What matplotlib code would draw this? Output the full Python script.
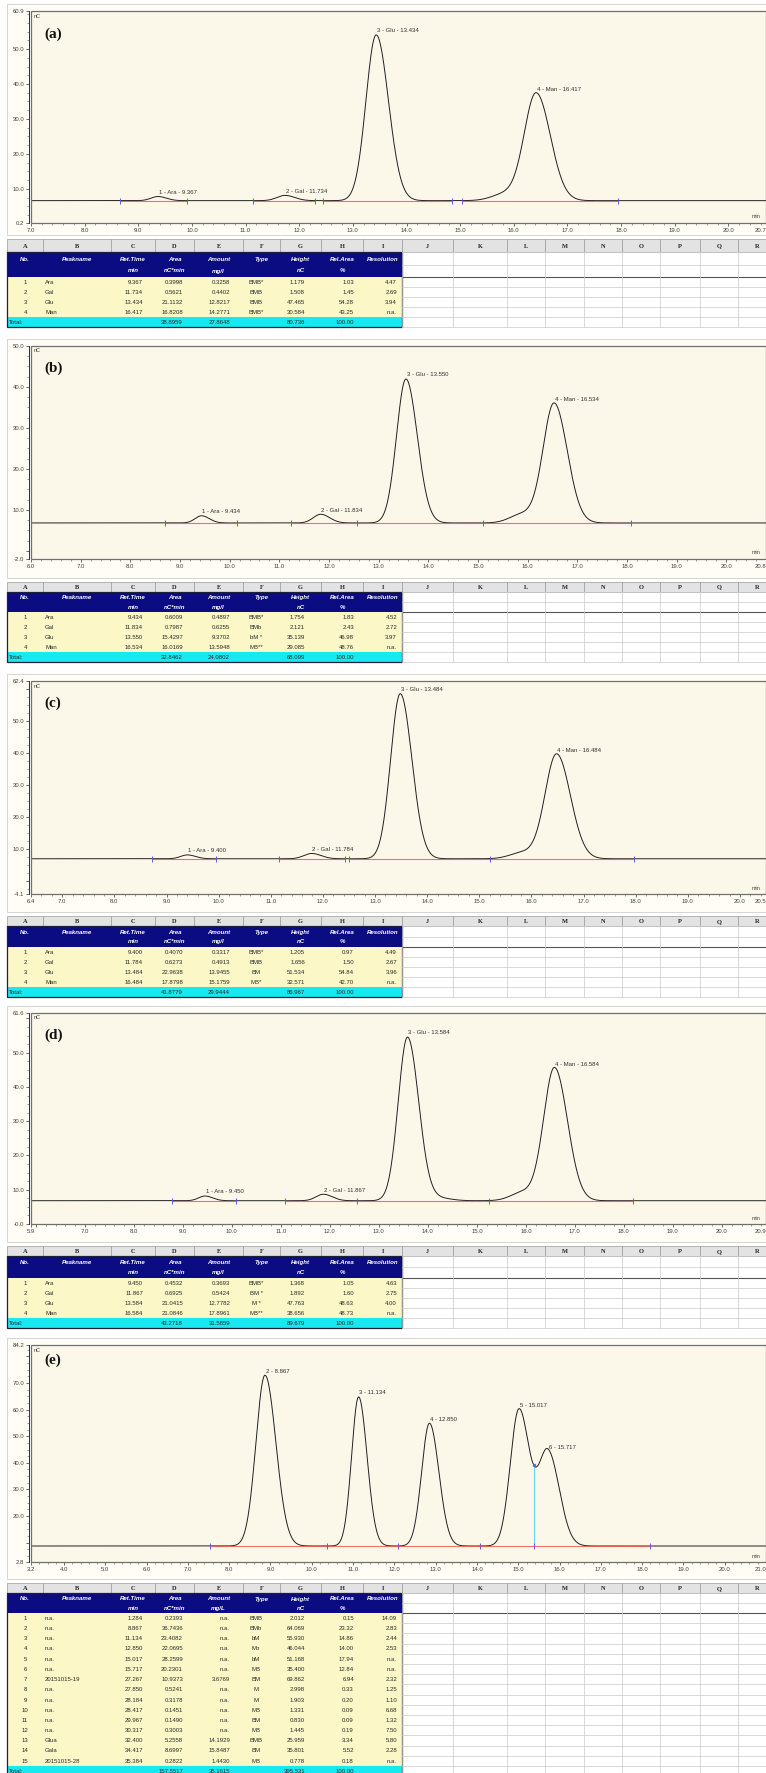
import numpy as np
import matplotlib.pyplot as plt
from matplotlib.patches import Rectangle
from matplotlib.ticker import MultipleLocator

plt.rcParams["font.family"] = ["Liberation Sans", "DejaVu Sans"]

W, H = 766, 1773

# table headings
col_letters = list("ABCDEFGHIJKLMNOPQR")
head_top = ["No.", "Peakname", "Ret.Time", "Area", "Amount", "Type", "Height", "Rel.Area", "Resolution"]
head_unit = ["", "", "min", "nC*min", "mg/l", "", "nC", "%", ""]

# ---- (a) ----
a_rows = [
    ["1", "Ara", "9.367", "0.3998", "0.3258", "BMB*", "1.179", "1.03", "4.47"],
    ["2", "Gal", "11.734", "0.5621", "0.4402", "BMB", "1.508", "1.45", "2.69"],
    ["3", "Glu", "13.434", "21.1132", "12.8217", "BMB", "47.465", "54.28", "3.94"],
    ["4", "Man", "16.417", "16.8208", "14.2771", "BMB*", "30.584", "43.25", "n.a."],
]
a_total = ["38.8959", "27.8648", "80.736", "100.00"]
a_sigma = [0.13, 0.15, 0.19, 0.22]
a_base = 6.6
a_shoulder = [(15.85, 2.0, 0.25)]
a_bounds = [(8.66, 9.91), (11.13, 12.29), (12.44, 14.85), (15.04, 17.95)]
a_xlim = (7.0, 20.7)
a_ylim = (0.2, 60.9)
a_ylab = [60.9, 50.0, 40.0, 30.0, 20.0, 10.0, 0.2]
a_yplain = []

# ---- (b) ----
b_rows = [
    ["1", "Ara", "9.434", "0.6009", "0.4897", "BMB*", "1.754", "1.83", "4.52"],
    ["2", "Gal", "11.834", "0.7987", "0.6255", "BMb", "2.121", "2.43", "2.72"],
    ["3", "Glu", "13.550", "15.4297", "9.3702", "bM *", "35.139", "46.98", "3.97"],
    ["4", "Man", "16.534", "16.0169", "13.5948", "MB**", "29.085", "48.76", "n.a."],
]
b_total = ["32.8462", "24.0802", "68.099", "100.00"]
b_sigma = [0.13, 0.15, 0.19, 0.22]
b_base = 6.8
b_shoulder = [(15.9, 2.2, 0.25)]
b_bounds = [(8.70, 10.15), (11.24, 12.57), (12.57, 15.11), (15.11, 18.09)]
b_xlim = (6.0, 20.8)
b_ylim = (-2.0, 50.0)
b_ylab = [50.0, 40.0, 30.0, 20.0, 10.0, -2.0]
b_yplain = [0.0]

# ---- (c) ----
c_rows = [
    ["1", "Ara", "9.400", "0.4070", "0.3317", "BMB*", "1.205", "0.97", "4.49"],
    ["2", "Gal", "11.784", "0.6273", "0.4913", "BMB", "1.656", "1.50", "2.67"],
    ["3", "Glu", "13.484", "22.9638", "13.9455", "BM", "51.534", "54.84", "3.96"],
    ["4", "Man", "16.484", "17.8798", "15.1759", "MB*", "32.571", "42.70", "n.a."],
]
c_total = ["41.8779", "29.9444", "86.967", "100.00"]
c_sigma = [0.13, 0.15, 0.185, 0.22]
c_base = 6.9
c_shoulder = [(15.85, 2.0, 0.25)]
c_bounds = [(8.72, 9.95), (11.16, 12.43), (12.50, 15.21), (15.21, 17.96)]
c_xlim = (6.4, 20.5)
c_ylim = (-4.1, 62.4)
c_ylab = [62.4, 50.0, 40.0, 30.0, 20.0, 10.0, -4.1]
c_yplain = [60.0, 0.0]

# ---- (d) ----
d_rows = [
    ["1", "Ara", "9.450", "0.4532", "0.3693", "BMB*", "1.368", "1.05", "4.63"],
    ["2", "Gal", "11.867", "0.6925", "0.5424", "BM *", "1.892", "1.60", "2.75"],
    ["3", "Glu", "13.584", "21.0415", "12.7782", "M *", "47.763", "48.63", "4.00"],
    ["4", "Man", "16.584", "21.0846", "17.8961", "MB**", "38.656", "48.73", "n.a."],
]
d_total = ["43.2718", "31.5859", "89.679", "100.00"]
d_sigma = [0.13, 0.15, 0.19, 0.22]
d_base = 6.8
d_shoulder = [(15.95, 2.5, 0.25), (14.25, 0.7, 0.2)]
d_bounds = [(8.77, 10.09), (11.08, 12.55), (12.55, 15.25), (15.25, 18.18)]
d_xlim = (5.9, 20.9)
d_ylim = (-0.0, 61.6)
d_ylab = [61.6, 50.0, 40.0, 30.0, 20.0, 10.0, -0.0]
d_yplain = [60.0]

# ---- (e) ----
e_rows = [
    ["1", "n.a.", "1.284", "0.2393", "n.a.", "BMB", "2.012", "0.15", "14.09"],
    ["2", "n.a.", "8.867", "36.7436", "n.a.", "BMb", "64.069", "23.32", "2.83"],
    ["3", "n.a.", "11.134", "23.4082", "n.a.", "bM", "55.930", "14.86", "2.44"],
    ["4", "n.a.", "12.850", "22.0695", "n.a.", "Mb", "46.044", "14.00", "2.53"],
    ["5", "n.a.", "15.017", "28.2599", "n.a.", "bM", "51.168", "17.94", "n.a."],
    ["6", "n.a.", "15.717", "20.2301", "n.a.", "MB", "35.400", "12.84", "n.a."],
    ["7", "20151015-19", "27.267", "10.9373", "3.6769", "BM", "69.862", "6.94", "2.32"],
    ["8", "n.a.", "27.850", "0.5241", "n.a.", "M", "2.998", "0.33", "1.25"],
    ["9", "n.a.", "28.184", "0.3178", "n.a.", "M", "1.903", "0.20", "1.10"],
    ["10", "n.a.", "28.417", "0.1451", "n.a.", "MB", "1.331", "0.09", "6.68"],
    ["11", "n.a.", "29.967", "0.1490", "n.a.", "BM", "0.830", "0.09", "1.32"],
    ["12", "n.a.", "30.317", "0.3003", "n.a.", "MB", "1.445", "0.19", "7.50"],
    ["13", "Glua", "32.400", "5.2558", "14.1929", "BMB", "25.959", "3.34", "5.80"],
    ["14", "Gala", "34.417", "8.6997", "15.8487", "BM", "35.801", "5.52", "2.28"],
    ["15", "20151015-28", "35.384", "0.2822", "1.4430", "MB", "0.778", "0.18", "n.a."],
]
e_total = ["157.5517", "35.1615", "395.531", "100.00"]
e_sigma = [0.22, 0.17, 0.19, 0.21, 0.23]
e_base = 8.8
e_shoulder = []
e_bounds = [(7.54, 10.36), (10.36, 12.08), (12.08, 14.07), (14.07, 15.37), (15.37, 18.2)]
e_drop = [15.37]
e_xlim = (3.2, 21.0)
e_ylim = (2.8, 84.2)
e_ylab = [84.2, 70.0, 60.0, 50.0, 40.0, 30.0, 20.0, 2.8]
e_yplain = [80.0, 10.0]

panels = [
    dict(tag="(a)", rows=a_rows, total=a_total, sigma=a_sigma, base=a_base, extra=a_shoulder,
         bounds=a_bounds, drop=[], xlim=a_xlim, ylim=a_ylim, ylab=a_ylab, yplain=a_yplain, unit="mg/l"),
    dict(tag="(b)", rows=b_rows, total=b_total, sigma=b_sigma, base=b_base, extra=b_shoulder,
         bounds=b_bounds, drop=[], xlim=b_xlim, ylim=b_ylim, ylab=b_ylab, yplain=b_yplain, unit="mg/l"),
    dict(tag="(c)", rows=c_rows, total=c_total, sigma=c_sigma, base=c_base, extra=c_shoulder,
         bounds=c_bounds, drop=[], xlim=c_xlim, ylim=c_ylim, ylab=c_ylab, yplain=c_yplain, unit="mg/l"),
    dict(tag="(d)", rows=d_rows, total=d_total, sigma=d_sigma, base=d_base, extra=d_shoulder,
         bounds=d_bounds, drop=[], xlim=d_xlim, ylim=d_ylim, ylab=d_ylab, yplain=d_yplain, unit="mg/l"),
    dict(tag="(e)", rows=e_rows, total=e_total, sigma=e_sigma, base=e_base, extra=e_shoulder,
         bounds=e_bounds, drop=e_drop, xlim=e_xlim, ylim=e_ylim, ylab=e_ylab, yplain=e_yplain, unit="mg/L"),
]

# pixel layout of each block (chart box, table)
layout = [
    dict(top=11, bottom=223, tag_dy=23, t_top=239, h_let=13, h_head=25, h_row=10),
    dict(top=346, bottom=559, tag_dy=22, t_top=582, h_let=9.5, h_head=20.5, h_row=10),
    dict(top=681, bottom=894, tag_dy=22, t_top=916, h_let=10, h_head=21, h_row=10),
    dict(top=1013, bottom=1224, tag_dy=22, t_top=1246, h_let=10, h_head=22, h_row=10),
    dict(top=1345, bottom=1562, tag_dy=15, t_top=1583, h_let=10, h_head=20, h_row=10.2),
]

X_EDGES = [7, 43, 111, 155, 194, 243, 280, 321, 363, 402, 453, 507, 545, 584, 622, 660, 700, 738, 776]
# text anchors for columns A..I
COL_X = [25, 45, 143, 183, 230, 256, 305, 354, 397]
COL_HA = ["center", "left", "right", "right", "right", "center", "right", "right", "right"]

NAVY = "#0b0b82"
YELLOW = "#fbf7c6"
CYAN = "#18e8f0"
BOX_BG = "#fcf8e9"
PANEL_BG = "#fffdf6"


def trace(t, base, peaks):
    y = np.full_like(t, base)
    for rt, h, s in peaks:
        sig = np.where(t < rt, s, s * 1.2)
        y += h * np.exp(-0.5 * ((t - rt) / sig) ** 2)
    return y


def draw_chrom(fig, p, lay):
    left = 31
    ax = fig.add_axes([left / W, 1 - lay["bottom"] / H, (W - left) / W,
                       (lay["bottom"] - lay["top"]) / H])
    ax.set_zorder(2)
    ax.set_facecolor(BOX_BG)
    ax.set_xlim(*p["xlim"])
    ax.set_ylim(*p["ylim"])

    # peaks visible in this window
    shown = [r for r in p["rows"] if p["xlim"][0] < float(r[2]) < p["xlim"][1]]
    peaks = [(float(r[2]), float(r[6]), s) for r, s in zip(shown, p["sigma"])]
    t = np.linspace(p["xlim"][0], p["xlim"][1], 4000)
    y = trace(t, p["base"], peaks + list(p["extra"]))
    ax.plot(t, y, color="#202020", lw=0.7, zorder=3)

    # integration baselines and delimiters
    for s, e in p["bounds"]:
        ax.plot([s, e], [p["base"], p["base"]], color="#e85a55", lw=0.8, alpha=0.85, zorder=4)
    marks = sorted(set(v for b in p["bounds"] for v in b))
    ax.plot(marks, [p["base"]] * len(marks), ls="none", marker="|", ms=4, mew=0.7,
            color="#6a5ad0", zorder=5)
    for xd in p["drop"]:
        yv = trace(np.array([xd]), p["base"], peaks)[0]
        ax.vlines(xd, p["base"], yv, color="#5ed8ea", lw=0.8, zorder=4)
        ax.plot([xd], [yv], marker="o", ms=1.5, color="#5a6ad8", zorder=5)

    # peak labels
    for r, (rt, h, s) in zip(shown, peaks):
        txt = f"{r[0]} - {r[2]}" if r[1] == "n.a." else f"{r[0]} - {r[1]} - {r[2]}"
        ax.annotate(txt, (rt, p["base"] + h), xytext=(0.5, 1.2), textcoords="offset points",
                    fontsize=4.3, color="#303030", ha="left", va="bottom", zorder=6)

    # axes styling
    for side in ["top", "right", "bottom"]:
        ax.spines[side].set_visible(False)
    ax.spines["left"].set_position(("outward", 1.5))
    ax.spines["left"].set_color("#303030")
    ax.spines["left"].set_linewidth(0.7)
    ax.add_patch(Rectangle((0, 0), 1, 1, transform=ax.transAxes, fill=False,
                           ec="#707070", lw=0.9, clip_on=False, zorder=7))

    # x ticks: whole minutes plus both ends; whole minutes too close to an end stay unlabeled
    x0, x1 = p["xlim"]
    whole = list(range(int(np.ceil(x0)), int(np.floor(x1)) + 1))
    xt = sorted(set([x0] + whole + [x1]))
    xl = []
    for v in xt:
        near_end = v not in (x0, x1) and (v - x0 < 0.5 or x1 - v < 0.5)
        xl.append("" if near_end else f"{v:.1f}")
    ax.set_xticks(xt, labels=xl)
    ax.xaxis.set_minor_locator(MultipleLocator(0.2))
    yt = p["ylab"] + p["yplain"]
    ax.set_yticks(yt, labels=[f"{v:.1f}" for v in p["ylab"]] + [""] * len(p["yplain"]))
    ax.yaxis.set_minor_locator(MultipleLocator(2.5))
    ax.tick_params(axis="both", which="major", labelsize=4.3, length=2.4, width=0.5,
                   pad=1, colors="#303030", labelcolor="#404040")
    ax.tick_params(axis="both", which="minor", length=1.2, width=0.4, colors="#505050")
    ax.get_xticklabels()[-1].set_horizontalalignment("right")

    hpx = lay["bottom"] - lay["top"]
    wpx = W - left
    ax.text(3 / wpx, 1 - 5 / hpx, "nC", transform=ax.transAxes, fontsize=4,
            color="#404040", va="center", ha="left")
    ax.text(1 - 5 / wpx, 6 / hpx, "min", transform=ax.transAxes, fontsize=4,
            color="#404040", va="center", ha="right")
    ax.text(13 / wpx, 1 - lay["tag_dy"] / hpx, p["tag"], transform=ax.transAxes,
            fontsize=11, fontweight="bold", family=["Liberation Serif", "DejaVu Serif"],
            va="center", ha="left", color="#111111")


def draw_table(bg, p, lay):
    top, hl, hh, hr = lay["t_top"], lay["h_let"], lay["h_head"], lay["h_row"]
    n = len(p["rows"])
    y0 = top + hl
    yd = y0 + hh
    yb = yd + (n + 1) * hr
    xa, xi = X_EDGES[0], X_EDGES[9]

    # letter row
    for i, lt in enumerate(col_letters):
        bg.add_patch(Rectangle((X_EDGES[i], top), X_EDGES[i + 1] - X_EDGES[i], hl,
                               fc="#e3e3e3", ec="#9c9c9c", lw=0.5))
        bg.text((X_EDGES[i] + X_EDGES[i + 1]) / 2, top + hl / 2 + 0.5, lt, fontsize=4.6,
                fontweight="bold", family=["Liberation Serif", "DejaVu Serif"],
                ha="center", va="center", color="#202020")

    # grid of empty columns J..R
    ys = [y0, y0 + hh / 2, yd] + [yd + k * hr for k in range(1, n + 2)]
    for yy in ys:
        bg.plot([xi, W], [yy, yy], color="#c9c9c9", lw=0.5)
    bg.plot([xi, W], [yd, yd], color="#555555", lw=0.8)
    for xx in X_EDGES[9:18]:
        bg.plot([xx, xx], [y0, yb], color="#c9c9c9", lw=0.5)

    # header, data and total blocks
    bg.add_patch(Rectangle((xa, y0), xi - xa, hh, fc=NAVY, ec="none"))
    bg.add_patch(Rectangle((xa, yd), xi - xa, n * hr, fc=YELLOW, ec="none"))
    bg.add_patch(Rectangle((xa, yd + n * hr), xi - xa, hr, fc=CYAN, ec="none"))
    bg.add_patch(Rectangle((xa, y0), xi - xa, yb - y0, fill=False, ec="#20203a", lw=0.9))

    units = head_unit[:4] + [p["unit"]] + head_unit[5:]
    for j in range(9):
        cx = (X_EDGES[j] + X_EDGES[j + 1]) / 2
        bg.text(cx, y0 + hh * 0.3, head_top[j], fontsize=4.4, fontweight="bold",
                style="italic", color="white", ha="center", va="center")
        if units[j]:
            bg.text(cx, y0 + hh * 0.76, units[j], fontsize=4.4, fontweight="bold",
                    style="italic", color="white", ha="center", va="center")

    for i, row in enumerate(p["rows"]):
        yc = yd + (i + 0.5) * hr + 0.3
        for j, val in enumerate(row):
            bg.text(COL_X[j], yc, val, fontsize=4.3, color="#2a2a2a",
                    ha=COL_HA[j], va="center")
    yc = yd + (n + 0.5) * hr + 0.3
    bg.text(9, yc, "Total:", fontsize=4.3, color="#2a2a2a", ha="left", va="center")
    for j, val in zip([3, 4, 6, 7], p["total"]):
        bg.text(COL_X[j], yc, val, fontsize=4.3, color="#2a2a2a", ha=COL_HA[j], va="center")


fig = plt.figure(figsize=(W / 100, H / 100), dpi=100, facecolor="white")
bg = fig.add_axes([0, 0, 1, 1])
bg.set_xlim(0, W)
bg.set_ylim(H, 0)
bg.axis("off")
bg.set_zorder(1)

for p, lay in zip(panels, layout):
    bg.add_patch(Rectangle((7, lay["top"] - 7), W - 7, lay["t_top"] - lay["top"] + 3,
                           fc=PANEL_BG, ec="#cfcfcf", lw=0.6))
    draw_table(bg, p, lay)
    draw_chrom(fig, p, lay)

fig.savefig("out.png", dpi=100)
